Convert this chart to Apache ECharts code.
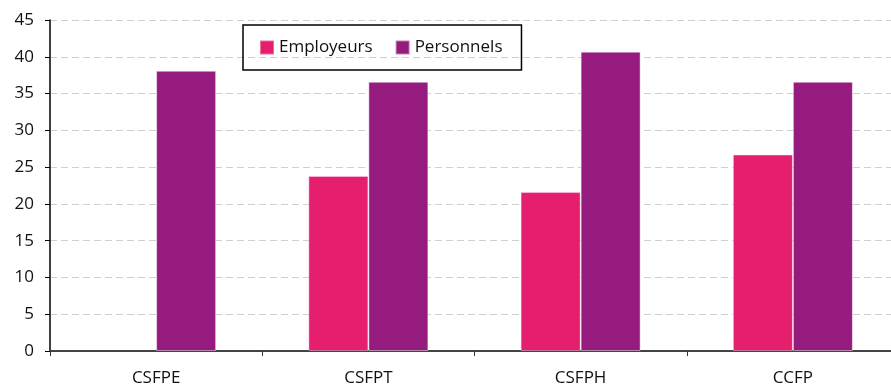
<!DOCTYPE html>
<html><head><meta charset="utf-8">
<script src="https://cdn.jsdelivr.net/npm/echarts@6/dist/echarts.min.js"></script>
<style>html,body{margin:0;padding:0;background:#fff}#c{width:891px;height:388px}</style>
</head><body><div id="c"></div>
<script>
const categories = ['CSFPE', 'CSFPT', 'CSFPH', 'CCFP'];
const employeurs = [null, 23.8, 21.6, 26.7];
const personnels = [38.1, 36.6, 40.7, 36.6];
const seriesNames = ['Employeurs', 'Personnels'];

const FONT = '"Open Sans", sans-serif';
const chart = echarts.init(document.getElementById('c'), null, {renderer: 'canvas'});
chart.setOption({
  animation: false,
  backgroundColor: '#fff',
  textStyle: {fontFamily: FONT},
  grid: {left: 50, top: 20, bottom: 37, width: 849, containLabel: false, outerBoundsMode: 'none'},
  legend: {
    left: 243, top: 25,
    data: seriesNames,
    icon: 'rect', itemWidth: 14, itemHeight: 14, itemGap: 22,
    padding: [14, 19, 14, 16],
    borderColor: '#000', borderWidth: 1.5,
    textStyle: {fontFamily: FONT, fontSize: 17, color: '#111'}
  },
  xAxis: {
    type: 'category', data: categories,
    axisLine: {lineStyle: {color: '#444', width: 2}},
    axisTick: {show: true, length: 5, lineStyle: {color: '#333'}},
    axisLabel: {fontFamily: FONT, fontSize: 17, color: '#111', margin: 19}
  },
  yAxis: {
    type: 'value', min: 0, max: 45, interval: 5,
    axisLine: {show: true, lineStyle: {color: '#000', width: 1.5}},
    axisTick: {show: true, length: 5, lineStyle: {color: '#000'}},
    axisLabel: {fontFamily: FONT, fontSize: 17, color: '#111', margin: 16},
    splitLine: {lineStyle: {color: '#cfcfcf', type: [7, 4], width: 1.2}}
  },
  series: [
    {name: seriesNames[0], type: 'bar', data: employeurs, barWidth: 60, barGap: '0%',
     itemStyle: {color: '#E61E6E', borderColor: 'rgba(255,255,255,0.35)', borderWidth: 1}},
    {name: seriesNames[1], type: 'bar', data: personnels, barWidth: 60, barGap: '0%',
     itemStyle: {color: '#951B7E', borderColor: 'rgba(255,255,255,0.45)', borderWidth: 1}}
  ]
});
</script></body></html>
